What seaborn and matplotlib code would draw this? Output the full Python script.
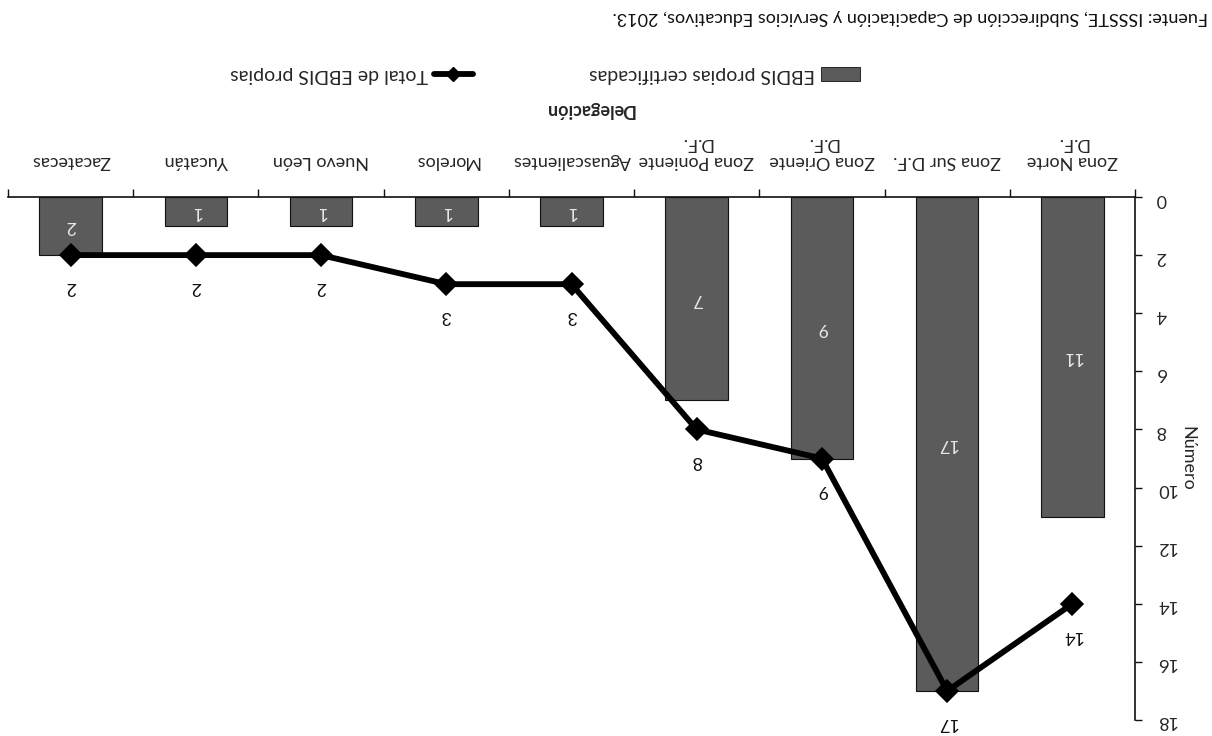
import numpy as np
import pandas as pd
import matplotlib
matplotlib.use("Agg")
import matplotlib.pyplot as plt
from matplotlib.patches import Patch
from matplotlib.lines import Line2D
import seaborn as sns

# Delegaciones y número de EBDIS
delegaciones = ["Zona Norte\nD.F.", "Zona Sur D.F.", "Zona Oriente\nD.F.",
                "Zona Poniente\nD.F.", "Aguascalientes", "Morelos",
                "Nuevo León", "Yucatán", "Zacatecas"]
certificadas = [11, 17, 9, 7, 1, 1, 1, 1, 2]
total = [14, 17, 9, 8, 3, 3, 2, 2, 2]
yticks = list(range(0, 19, 2))

serie_barras = "EBDIS propias certificadas"
serie_linea = "Total de EBDIS propias"
titulo_x = "Delegación"
titulo_y = "Número"
fuente = "Fuente: ISSSTE, Subdirección de Capacitación y Servicios Educativos, 2013."

df = pd.DataFrame({"Delegación": delegaciones,
                   "certificadas": certificadas,
                   "total": total})

sns.set_style("white")
plt.rcParams["font.family"] = ["Lato", "DejaVu Sans"]

BAR_GREY = "#5b5b5b"
INK = "#111111"

fig = plt.figure(figsize=(12.12, 7.36), dpi=100)
ax = fig.add_axes([8 / 1212, 1 - 720 / 736, 1127 / 1212, 523 / 736])

sns.barplot(data=df, x="Delegación", y="certificadas", order=delegaciones,
            color=BAR_GREY, saturation=1, width=0.5, edgecolor=INK,
            linewidth=0.8, ax=ax)
sns.pointplot(data=df, x="Delegación", y="total", order=delegaciones,
              color="black", markers="D", markersize=9, linewidth=4.2,
              ax=ax)

n = len(delegaciones)
# Page is printed upside down: both axes reversed, text turned 180°
ax.set_xlim(n - 0.5, -0.5)
ax.set_ylim(18, 0)
ax.set_yticks(yticks)
ax.set_yticklabels([str(t) for t in yticks], rotation=180, fontsize=13)

ax.xaxis.set_ticks_position("top")
ax.yaxis.set_ticks_position("right")
ax.set_xticks(range(n))
ax.set_xticklabels(delegaciones, rotation=180, fontsize=13,
                   multialignment="center")
ax.set_xticks(np.arange(-0.5, n, 1), minor=True)
ax.tick_params(axis="x", which="major", length=0, pad=20)
ax.tick_params(axis="x", which="minor", length=6, width=1, direction="out",
               color=INK)
ax.tick_params(axis="y", length=5, width=1, direction="out", color=INK,
               pad=10)

for side in ["left", "bottom"]:
    ax.spines[side].set_visible(False)
for side in ["top", "right"]:
    ax.spines[side].set_visible(True)
    ax.spines[side].set_color(INK)
    ax.spines[side].set_linewidth(1.2)

ax.set_xlabel(titulo_x, rotation=180, fontsize=13, fontweight="bold",
              va="center", ha="center")
ax.xaxis.set_label_position("top")
ax.xaxis.set_label_coords((590 - 8) / 1127, (720 - 115) / 523)
ax.set_ylabel(titulo_y, rotation=270, fontsize=13, va="center", ha="center")
ax.yaxis.set_label_position("right")
ax.yaxis.set_label_coords((1195 - 8) / 1127, 0.5)

# Valores de las barras (centrados) y de la línea
ax.bar_label(ax.containers[0], labels=[str(v) for v in certificadas],
             label_type="center", rotation=180, color="#e8e8e8", fontsize=13)
for i, v in enumerate(total):
    ax.annotate(str(v), (i, v), xytext=(0, -23), textcoords="offset points",
                ha="center", va="center", rotation=180, fontsize=13,
                color=INK)

handles = [Line2D([], [], color="black", lw=4.2, marker="D", markersize=7),
           Patch(facecolor=BAR_GREY, edgecolor=INK, linewidth=0.6)]
leg = fig.legend(handles, [serie_linea, serie_barras], ncol=2, frameon=False,
                 markerfirst=False, loc="center",
                 bbox_to_anchor=(545 / 1212, 1 - 75 / 736), fontsize=14,
                 handlelength=2.0, handletextpad=0.3, columnspacing=6)
for t in leg.get_texts():
    t.set_rotation(180)

fig.text(1208 / 1212, 1 - 17 / 736, fuente, rotation=180, ha="right",
         va="center", fontsize=13, color=INK)

fig.savefig("out.png", dpi=100, facecolor="white")
